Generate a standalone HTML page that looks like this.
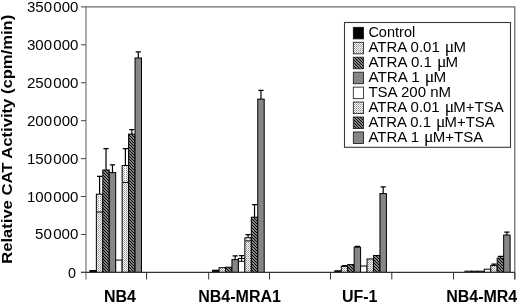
<!DOCTYPE html>
<html><head><meta charset="utf-8"><style>
html,body{margin:0;padding:0;background:#fff;}
svg{display:block;will-change:transform;filter:blur(0.3px);}
text{font-family:"Liberation Sans",sans-serif;font-size:14.5px;fill:#000;}
.lg{font-size:14px;}
.tk{font-size:14.3px;}
.mu{font-family:"Liberation Serif",serif;font-size:16.5px;}
.xl{font-weight:bold;font-size:16px;}
.yt{font-weight:bold;font-size:14.6px;}
</style></head><body>
<svg width="520" height="304" viewBox="0 0 520 304">
<defs>
<pattern id="pd" width="2" height="2" patternUnits="userSpaceOnUse"><rect width="2" height="2" fill="#fff"/><rect width="1" height="1" fill="#8e8e8e"/><rect x="1" y="1" width="1" height="1" fill="#b4b4b4"/></pattern>
<pattern id="ph" width="3" height="3" patternUnits="userSpaceOnUse"><rect width="3" height="3" fill="#e8e8e8"/><path d="M-1 -1L4 4M-1 2L1 4M2 -1L4 1" stroke="#000" stroke-width="1.25"/></pattern>
</defs>
<rect width="520" height="304" fill="#fff"/>
<path d="M86 6.9H514.8V279.5" stroke="#6a6a6a" stroke-width="1.25" fill="none"/>
<rect x="89.90" y="270.50" width="6.45" height="1.90" fill="#000" stroke="#000" stroke-width="1"/><rect x="96.35" y="194.20" width="6.45" height="78.20" fill="url(#pd)" stroke="#000" stroke-width="1"/><rect x="102.80" y="170.00" width="6.45" height="102.40" fill="url(#ph)" stroke="#000" stroke-width="1"/><rect x="109.25" y="172.60" width="6.45" height="99.80" fill="#868686" stroke="#000" stroke-width="1"/><rect x="115.70" y="260.10" width="6.45" height="12.30" fill="#fff" stroke="#000" stroke-width="1"/><rect x="122.15" y="165.50" width="6.45" height="106.90" fill="url(#pd)" stroke="#000" stroke-width="1"/><rect x="128.60" y="134.10" width="6.45" height="138.30" fill="url(#ph)" stroke="#000" stroke-width="1"/><rect x="135.05" y="58.00" width="6.45" height="214.40" fill="#868686" stroke="#000" stroke-width="1"/><rect x="212.60" y="270.20" width="6.45" height="2.20" fill="#000" stroke="#000" stroke-width="1"/><rect x="219.05" y="267.70" width="6.45" height="4.70" fill="url(#pd)" stroke="#000" stroke-width="1"/><rect x="225.50" y="267.20" width="6.45" height="5.20" fill="url(#ph)" stroke="#000" stroke-width="1"/><rect x="231.95" y="259.60" width="6.45" height="12.80" fill="#868686" stroke="#000" stroke-width="1"/><rect x="238.40" y="258.50" width="6.45" height="13.90" fill="#fff" stroke="#000" stroke-width="1"/><rect x="244.85" y="237.80" width="6.45" height="34.60" fill="url(#pd)" stroke="#000" stroke-width="1"/><rect x="251.30" y="217.20" width="6.45" height="55.20" fill="url(#ph)" stroke="#000" stroke-width="1"/><rect x="257.75" y="99.10" width="6.45" height="173.30" fill="#868686" stroke="#000" stroke-width="1"/><rect x="334.80" y="270.80" width="6.45" height="1.60" fill="#000" stroke="#000" stroke-width="1"/><rect x="341.25" y="266.40" width="6.45" height="6.00" fill="url(#pd)" stroke="#000" stroke-width="1"/><rect x="347.70" y="264.60" width="6.45" height="7.80" fill="url(#ph)" stroke="#000" stroke-width="1"/><rect x="354.15" y="247.20" width="6.45" height="25.20" fill="#868686" stroke="#000" stroke-width="1"/><rect x="360.60" y="266.00" width="6.45" height="6.40" fill="#fff" stroke="#000" stroke-width="1"/><rect x="367.05" y="259.00" width="6.45" height="13.40" fill="url(#pd)" stroke="#000" stroke-width="1"/><rect x="373.50" y="255.50" width="6.45" height="16.90" fill="url(#ph)" stroke="#000" stroke-width="1"/><rect x="379.95" y="193.60" width="6.45" height="78.80" fill="#868686" stroke="#000" stroke-width="1"/><rect x="464.95" y="271.20" width="6.45" height="1.20" fill="url(#pd)" stroke="#000" stroke-width="1"/><rect x="471.40" y="271.20" width="6.45" height="1.20" fill="url(#ph)" stroke="#000" stroke-width="1"/><rect x="477.85" y="271.20" width="6.45" height="1.20" fill="#868686" stroke="#000" stroke-width="1"/><rect x="484.30" y="269.20" width="6.45" height="3.20" fill="#fff" stroke="#000" stroke-width="1"/><rect x="490.75" y="265.40" width="6.45" height="7.00" fill="url(#pd)" stroke="#000" stroke-width="1"/><rect x="497.20" y="258.10" width="6.45" height="14.30" fill="url(#ph)" stroke="#000" stroke-width="1"/><rect x="503.65" y="235.00" width="6.45" height="37.40" fill="#868686" stroke="#000" stroke-width="1"/>
<path d="M99.58 176.40V194.20M96.98 176.40H102.17" stroke="#000" stroke-width="1.2" fill="none"/><path d="M99.58 194.70V212.00" stroke="#fff" stroke-width="1.2" fill="none"/><path d="M96.98 212.00H102.17" stroke="#000" stroke-width="1" fill="none"/><path d="M106.03 148.70V170.00M103.43 148.70H108.62" stroke="#000" stroke-width="1.2" fill="none"/><path d="M112.47 164.80V172.60M109.88 164.80H115.07" stroke="#000" stroke-width="1.2" fill="none"/><path d="M125.38 148.60V165.50M122.78 148.60H127.97" stroke="#000" stroke-width="1.2" fill="none"/><path d="M125.38 166.00V182.40" stroke="#fff" stroke-width="1.2" fill="none"/><path d="M122.78 182.40H127.97" stroke="#000" stroke-width="1" fill="none"/><path d="M131.83 129.60V134.10M129.23 129.60H134.43" stroke="#000" stroke-width="1.2" fill="none"/><path d="M138.28 51.80V58.00M135.68 51.80H140.88" stroke="#000" stroke-width="1.2" fill="none"/><path d="M235.17 255.80V259.60M232.57 255.80H237.77" stroke="#000" stroke-width="1.2" fill="none"/><path d="M241.62 255.70V258.50M239.03 255.70H244.22" stroke="#000" stroke-width="1.2" fill="none"/><path d="M241.62 258.50V261.30M239.03 261.30H244.22" stroke="#000" stroke-width="1" fill="none"/><path d="M248.07 234.70V237.80M245.47 234.70H250.67" stroke="#000" stroke-width="1.2" fill="none"/><path d="M248.07 238.30V240.90" stroke="#fff" stroke-width="1.2" fill="none"/><path d="M245.47 240.90H250.67" stroke="#000" stroke-width="1" fill="none"/><path d="M254.53 204.60V217.20M251.93 204.60H257.12" stroke="#000" stroke-width="1.2" fill="none"/><path d="M260.98 90.40V99.10M258.38 90.40H263.58" stroke="#000" stroke-width="1.2" fill="none"/><path d="M344.48 265.60V266.40M341.88 265.60H347.08" stroke="#000" stroke-width="1.2" fill="none"/><path d="M357.38 246.30V247.20M354.78 246.30H359.98" stroke="#000" stroke-width="1.2" fill="none"/><path d="M383.18 186.90V193.60M380.57 186.90H385.78" stroke="#000" stroke-width="1.2" fill="none"/><path d="M493.98 264.10V265.40M491.38 264.10H496.58" stroke="#000" stroke-width="1.2" fill="none"/><path d="M500.43 256.40V258.10M497.82 256.40H503.03" stroke="#000" stroke-width="1.2" fill="none"/><path d="M506.88 232.10V235.00M504.27 232.10H509.48" stroke="#000" stroke-width="1.2" fill="none"/>
<path d="M86 6.3V279.5" stroke="#8a8a8a" stroke-width="1.4"/>
<path d="M81 272.4H514.8" stroke="#333" stroke-width="1.1"/>
<path d="M81 272.40H86" stroke="#444" stroke-width="1"/><path d="M81 234.47H86" stroke="#444" stroke-width="1"/><path d="M81 196.54H86" stroke="#444" stroke-width="1"/><path d="M81 158.61H86" stroke="#444" stroke-width="1"/><path d="M81 120.69H86" stroke="#444" stroke-width="1"/><path d="M81 82.76H86" stroke="#444" stroke-width="1"/><path d="M81 44.83H86" stroke="#444" stroke-width="1"/><path d="M81 6.90H86" stroke="#444" stroke-width="1"/><path d="M146.60 272.4V279.5" stroke="#333" stroke-width="1"/><path d="M208.70 272.4V279.5" stroke="#333" stroke-width="1"/><path d="M269.50 272.4V279.5" stroke="#333" stroke-width="1"/><path d="M330.50 272.4V279.5" stroke="#333" stroke-width="1"/><path d="M391.80 272.4V279.5" stroke="#333" stroke-width="1"/><path d="M453.50 272.4V279.5" stroke="#333" stroke-width="1"/><path d="M514.80 272.4V279.5" stroke="#333" stroke-width="1"/>
<text class="tk" x="75.9" y="277.70" text-anchor="end">0</text><text class="tk" x="78.4" y="239.47" text-anchor="end" textLength="43.3" lengthAdjust="spacingAndGlyphs">50&#8202;000</text><text class="tk" x="78.4" y="201.54" text-anchor="end" textLength="51.5" lengthAdjust="spacingAndGlyphs">100&#8202;000</text><text class="tk" x="78.4" y="163.61" text-anchor="end" textLength="51.5" lengthAdjust="spacingAndGlyphs">150&#8202;000</text><text class="tk" x="78.4" y="125.69" text-anchor="end" textLength="51.5" lengthAdjust="spacingAndGlyphs">200&#8202;000</text><text class="tk" x="78.4" y="87.76" text-anchor="end" textLength="51.5" lengthAdjust="spacingAndGlyphs">250&#8202;000</text><text class="tk" x="78.4" y="49.83" text-anchor="end" textLength="51.5" lengthAdjust="spacingAndGlyphs">300&#8202;000</text><text class="tk" x="78.4" y="11.90" text-anchor="end" textLength="51.5" lengthAdjust="spacingAndGlyphs">350&#8202;000</text>
<text class="yt" transform="translate(12.2,139.3) rotate(-90)" text-anchor="middle" textLength="249" lengthAdjust="spacingAndGlyphs">Relative CAT Activity (cpm/min)</text>
<text class="xl" x="120" y="302" text-anchor="middle">NB4</text>
<text class="xl" x="239.6" y="302" text-anchor="middle">NB4-MRA1</text>
<text class="xl" x="359.7" y="302" text-anchor="middle">UF-1</text>
<text class="xl" x="481.7" y="302" text-anchor="middle">NB4-MR4</text>
<rect x="344.5" y="22.5" width="166" height="124.8" fill="#fff" stroke="#3a3a3a" stroke-width="1.1"/>
<rect x="353.3" y="27.30" width="10.2" height="11.6" fill="#000" stroke="#111" stroke-width="0.8"/><text x="368.4" y="36.50" class="lg" textLength="46.8" lengthAdjust="spacingAndGlyphs">Control</text><rect x="353.3" y="42.25" width="10.2" height="11.6" fill="url(#pd)" stroke="#111" stroke-width="0.8"/><text x="368.4" y="51.50" class="lg" textLength="97.5" lengthAdjust="spacingAndGlyphs">ATRA 0.01 <tspan class="mu" dx="0.8">μ</tspan><tspan dx="-0.8">M</tspan></text><rect x="353.3" y="57.20" width="10.2" height="11.6" fill="url(#ph)" stroke="#111" stroke-width="0.8"/><text x="368.4" y="66.50" class="lg" textLength="89.8" lengthAdjust="spacingAndGlyphs">ATRA 0.1 <tspan class="mu" dx="0.8">μ</tspan><tspan dx="-0.8">M</tspan></text><rect x="353.3" y="72.15" width="10.2" height="11.6" fill="#868686" stroke="#111" stroke-width="0.8"/><text x="368.4" y="81.50" class="lg" textLength="77.8" lengthAdjust="spacingAndGlyphs">ATRA 1 <tspan class="mu" dx="0.8">μ</tspan><tspan dx="-0.8">M</tspan></text><rect x="353.3" y="87.10" width="10.2" height="11.6" fill="#fff" stroke="#111" stroke-width="0.8"/><text x="368.4" y="96.50" class="lg" textLength="82.7" lengthAdjust="spacingAndGlyphs">TSA 200 nM</text><rect x="353.3" y="102.05" width="10.2" height="11.6" fill="url(#pd)" stroke="#111" stroke-width="0.8"/><text x="368.4" y="111.50" class="lg" textLength="135.3" lengthAdjust="spacingAndGlyphs">ATRA 0.01 <tspan class="mu" dx="0.8">μ</tspan><tspan dx="-0.8">M</tspan>+TSA</text><rect x="353.3" y="117.00" width="10.2" height="11.6" fill="url(#ph)" stroke="#111" stroke-width="0.8"/><text x="368.4" y="126.50" class="lg" textLength="126.2" lengthAdjust="spacingAndGlyphs">ATRA 0.1 <tspan class="mu" dx="0.8">μ</tspan><tspan dx="-0.8">M</tspan>+TSA</text><rect x="353.3" y="131.95" width="10.2" height="11.6" fill="#868686" stroke="#111" stroke-width="0.8"/><text x="368.4" y="141.50" class="lg" textLength="114.9" lengthAdjust="spacingAndGlyphs">ATRA 1 <tspan class="mu" dx="0.8">μ</tspan><tspan dx="-0.8">M</tspan>+TSA</text>
</svg>
</body></html>
